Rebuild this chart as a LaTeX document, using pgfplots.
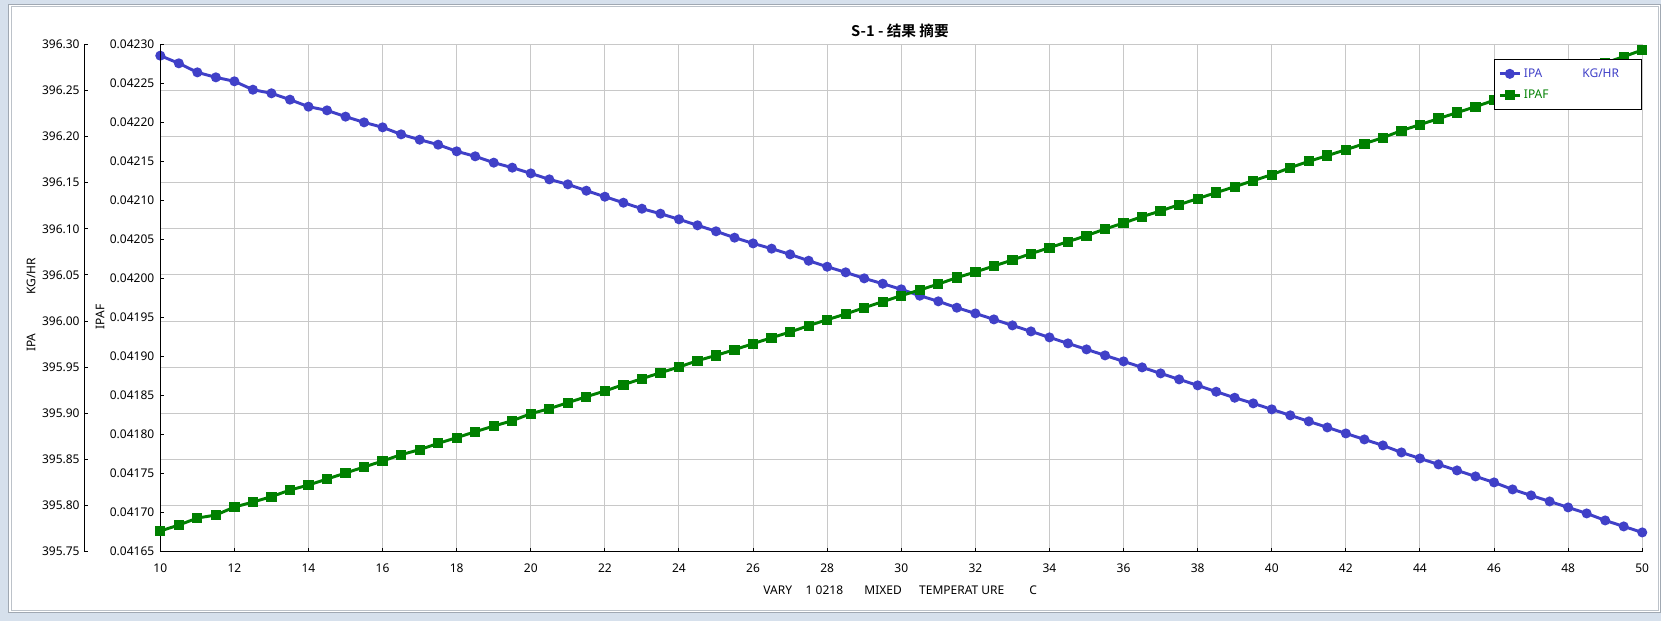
\documentclass[border=0pt]{standalone}
\usepackage{fontspec}
\setmainfont{Noto Sans}
\newfontfamily\cjk{Noto Sans CJK SC}[BoldFont={Noto Sans CJK SC Bold}]
\usepackage{pgfplots}
\usepackage{pgfplotstable}
\pgfplotsset{compat=1.18}
\definecolor{ipablue}{RGB}{64,64,200}
\definecolor{ipafgreen}{RGB}{0,128,0}
\definecolor{gridgray}{RGB}{200,200,200}
\definecolor{framebg}{RGB}{214,224,236}
\definecolor{frameline}{RGB}{160,168,178}
\newcommand{\ninept}{\fontsize{9pt}{11pt}\selectfont}

\pgfplotstableread{
x y
10 396.2877
10.5 396.2794
11 396.2696
11.5 396.2642
12 396.2599
12.5 396.2508
13 396.2469
13.5 396.2400
14 396.2324
14.5 396.2284
15 396.2216
15.5 396.2154
16 396.2100
16.5 396.2024
17 396.1966
17.5 396.1912
18 396.1840
18.5 396.1786
19 396.1717
19.5 396.1663
20 396.1601
20.5 396.1536
21 396.1482
21.5 396.1413
22 396.1348
22.5 396.1283
23 396.1218
23.5 396.1164
24 396.1103
24.5 396.1038
25 396.0973
25.5 396.0904
26 396.0842
26.5 396.0785
27 396.0723
27.5 396.0654
28 396.0589
28.5 396.0528
29 396.0463
29.5 396.0405
30 396.0344
30.5 396.0275
31 396.0214
31.5 396.0145
32 396.0083
32.5 396.0018
33 395.9953
33.5 395.9888
34 395.9823
34.5 395.9758
35 395.9693
35.5 395.9628
36 395.9563
36.5 395.9498
37 395.9433
37.5 395.9368
38 395.9303
38.5 395.9234
39 395.9169
39.5 395.9108
40 395.9043
40.5 395.8978
41 395.8913
41.5 395.8847
42 395.8782
42.5 395.8717
43 395.8652
43.5 395.8576
44 395.8511
44.5 395.8446
45 395.8381
45.5 395.8316
46 395.8251
46.5 395.8175
47 395.8110
47.5 395.8045
48 395.7980
48.5 395.7915
49 395.7839
49.5 395.7774
50 395.7709
}\ipatable

\pgfplotstableread{
x y
10 0.0416765
10.5 0.0416842
11 0.0416931
11.5 0.0416970
12 0.0417072
12.5 0.0417136
13 0.0417205
13.5 0.0417290
14 0.0417354
14.5 0.0417431
15 0.0417508
15.5 0.0417585
16 0.0417662
16.5 0.0417743
17 0.0417807
17.5 0.0417888
18 0.0417961
18.5 0.0418037
19 0.0418110
19.5 0.0418178
20 0.0418268
20.5 0.0418332
21 0.0418409
21.5 0.0418486
22 0.0418559
22.5 0.0418640
23 0.0418716
23.5 0.0418793
24 0.0418866
24.5 0.0418947
25 0.0419015
25.5 0.0419088
26 0.0419165
26.5 0.0419242
27 0.0419314
27.5 0.0419396
28 0.0419472
28.5 0.0419545
29 0.0419626
29.5 0.0419703
30 0.0419780
30.5 0.0419853
31 0.0419929
31.5 0.0420011
32 0.0420083
32.5 0.0420160
33 0.0420237
33.5 0.0420318
34 0.0420395
34.5 0.0420472
35 0.0420549
35.5 0.0420634
36 0.0420711
36.5 0.0420792
37 0.0420865
37.5 0.0420946
38 0.0421023
38.5 0.0421100
39 0.0421176
39.5 0.0421253
40 0.0421330
40.5 0.0421420
41 0.0421501
41.5 0.0421574
42 0.0421650
42.5 0.0421727
43 0.0421804
43.5 0.0421894
44 0.0421971
44.5 0.0422048
45 0.0422125
45.5 0.0422201
46 0.0422283
46.5 0.0422364
47 0.0422441
47.5 0.0422522
48 0.0422603
48.5 0.0422684
49 0.0422761
49.5 0.0422842
50 0.0422927
}\ipaftable

\pgfplotstableread{
x y
0.5 396.00
}\dummytable

\pgfplotsset{
  common/.style={
    scale only axis, anchor=south west,
    height=380.55pt,
    /pgf/number format/assume math mode=true,
    tick label style={font=\ninept},
    tick style={black, line width=0.75pt},
    major tick length=3pt,
    axis line style={-, black, line width=0.75pt},
    clip=false,
  },
  ipatrafo/.style={
    y coord trafo/.code={\edef\pgfmathresult{\fpeval{##1-396}}},
    ymin=395.75, ymax=396.30,
    ytick={395.75,395.80,395.85,395.90,395.95,396.00,396.05,396.10,396.15,396.20,396.25,396.30},
  },
}

\begin{document}
\begin{tikzpicture}
\useasboundingbox (0,0) rectangle (1245.75pt,-465.75pt);
\fill[framebg] (0,0) rectangle (1245.75pt,-465.75pt);
\fill[white] (6.2pt,-3pt) rectangle (1245pt,-459.5pt);
\draw[frameline, line width=0.6pt] (6.2pt,-3pt) rectangle (1245pt,-459.5pt);
\draw[frameline!70, line width=0.6pt] (8.8pt,-5pt) rectangle (1243.5pt,-458pt);

% main axis: grid, x axis, IPA data
\begin{axis}[common, ipatrafo,
  at={(120.225pt,-413.775pt)}, width=1111.5pt,
  xmin=10, xmax=50, xtick={10,12,...,50},
  xticklabel style={yshift=-5.5pt},
  yticklabels={}, ytick style={draw=none},
  grid=major, major grid style={gridgray, line width=0.75pt},
  axis x line*=bottom, axis y line*=left,
]
\addplot[ipablue, line width=2.2pt, mark=*, mark size=2.6pt, mark options={solid}] table[x=x,y=y] {\ipatable};
\end{axis}

% outer IPA scale
\begin{axis}[common, ipatrafo,
  at={(63.225pt,-413.775pt)}, width=1pt,
  xmin=0, xmax=1,
  axis y line*=left, axis x line=none,
  yticklabels={395.75,395.80,395.85,395.90,395.95,396.00,396.05,396.10,396.15,396.20,396.25,396.30},
  yticklabel style={xshift=0pt},
]
\addplot[draw=none] table[x=x,y=y] {\dummytable};
\end{axis}

% IPAF axis
\begin{axis}[common,
  at={(120.225pt,-413.775pt)}, width=1111.5pt,
  xmin=10, xmax=50,
  ymin=0.04165, ymax=0.04230,
  ytick={0.04165,0.04170,0.04175,0.04180,0.04185,0.04190,0.04195,0.04200,0.04205,0.04210,0.04215,0.04220,0.04225,0.04230},
  scaled y ticks=false,
  yticklabel style={/pgf/number format/.cd, fixed, fixed zerofill, precision=5, /tikz/.cd, xshift=-1pt},
  axis y line*=left, axis x line=none,
  legend style={at={(1,0.9704)}, anchor=north east, draw=black, line width=0.75pt,
    fill=white, font=\ninept, inner xsep=3pt, inner ysep=4.5pt, row sep=4pt,
    cells={anchor=west}},
  legend image code/.code={\draw[#1, mark repeat=2, mark phase=2] plot coordinates {(0pt,0pt) (7.5pt,0pt) (15pt,0pt)};},
]
\addlegendimage{ipablue, line width=2.2pt, mark=*, mark size=2.6pt, mark options={solid}}
\addlegendentry{\textcolor{ipablue}{IPA\hspace{30pt}KG/HR\hspace{12pt}}}
\addplot[ipafgreen, line width=2.2pt, mark=square*, mark size=2.75pt, mark options={solid}] table[x=x,y=y] {\ipaftable};
\addlegendentry{\textcolor{ipafgreen}{IPAF}}
\end{axis}

\node[rotate=90, font=\ninept] at (23.25pt,-228.7pt) {IPA\hspace{29pt}KG/HR};
\node[rotate=90, font=\ninept] at (75pt,-237.75pt) {IPAF};
\node[font=\cjk\bfseries\fontsize{11pt}{13pt}\selectfont] at (675pt,-22.9pt) {S-1 - 结果 摘要};
\node[font=\ninept] at (675.15pt,-442.3pt) {VARY\hspace{10.2pt}1 0218\hspace{16pt}MIXED\hspace{13pt}TEMPERAT URE\hspace{18.75pt}C};
\end{tikzpicture}
\end{document}
